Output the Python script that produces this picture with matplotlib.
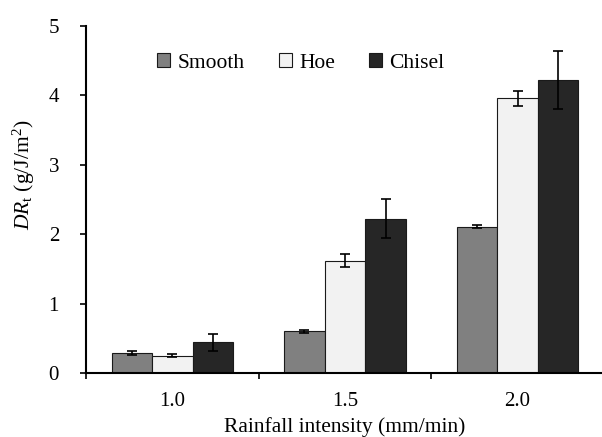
import numpy as np
import matplotlib
matplotlib.use('Agg')
import matplotlib.pyplot as plt

plt.rcParams['font.family'] = ['Liberation Serif', 'DejaVu Serif']
plt.rcParams['mathtext.fontset'] = 'custom'
plt.rcParams['mathtext.rm'] = 'Liberation Serif'
plt.rcParams['mathtext.it'] = 'Liberation Serif:italic'

# Data
intensity = ['1.0', '1.5', '2.0']
smooth = [0.29, 0.60, 2.11]
smooth_err = [0.03, 0.02, 0.02]
hoe = [0.25, 1.62, 3.96]
hoe_err = [0.02, 0.10, 0.11]
chisel = [0.44, 2.22, 4.22]
chisel_err = [0.12, 0.28, 0.42]

series = [('Smooth', smooth, smooth_err, '#808080'),
          ('Hoe', hoe, hoe_err, '#f2f2f2'),
          ('Chisel', chisel, chisel_err, '#262626')]

fig = plt.figure(figsize=(6.02, 4.37), dpi=100)
ax = fig.add_axes([0.143, 0.1465, 0.86, 0.794])

x = np.arange(len(intensity))
w = 0.235
for i, (name, vals, errs, col) in enumerate(series):
    ax.bar(x + (i - 1) * w, vals, w, color=col, edgecolor='#1a1a1a',
           linewidth=0.8, label=name, zorder=2)
    ax.errorbar(x + (i - 1) * w, vals, yerr=errs, fmt='none', ecolor='black',
                elinewidth=1.2, capsize=3.3, capthick=1.2, zorder=3)

ax.set_xlim(-0.5, 2.5)
ax.set_ylim(0, 5)
ax.set_yticks([0, 1, 2, 3, 4, 5])
ax.set_xticks(x)
ax.set_xticklabels(intensity)
ax.set_xticks([-0.5, 0.5, 1.5, 2.5], minor=True)
ax.tick_params(axis='x', which='major', length=0, pad=14, labelsize=15)
ax.tick_params(axis='x', which='minor', length=4, width=1.2, direction='out')
ax.tick_params(axis='y', length=4.5, width=1.2, pad=15, labelsize=15)

for s in ['top', 'right']:
    ax.spines[s].set_visible(False)
ax.spines['left'].set_linewidth(1.5)
ax.spines['bottom'].set_linewidth(1.5)

ax.set_xlabel('Rainfall intensity (mm/min)', fontsize=15.5, labelpad=4)
ax.set_ylabel(r'$DR_{\mathrm{t}}$ (g/J/m$^2$)', fontsize=15.5)
ax.yaxis.set_label_coords(-0.094, 0.57)

ax.legend(loc='center', bbox_to_anchor=(301 / 602, 1 - 63 / 437),
          bbox_transform=fig.transFigure, ncol=3, frameon=False,
          fontsize=15.5, handlelength=0.6, handleheight=0.6,
          handletextpad=0.33, columnspacing=1.6)

fig.savefig('out.png', dpi=100)
